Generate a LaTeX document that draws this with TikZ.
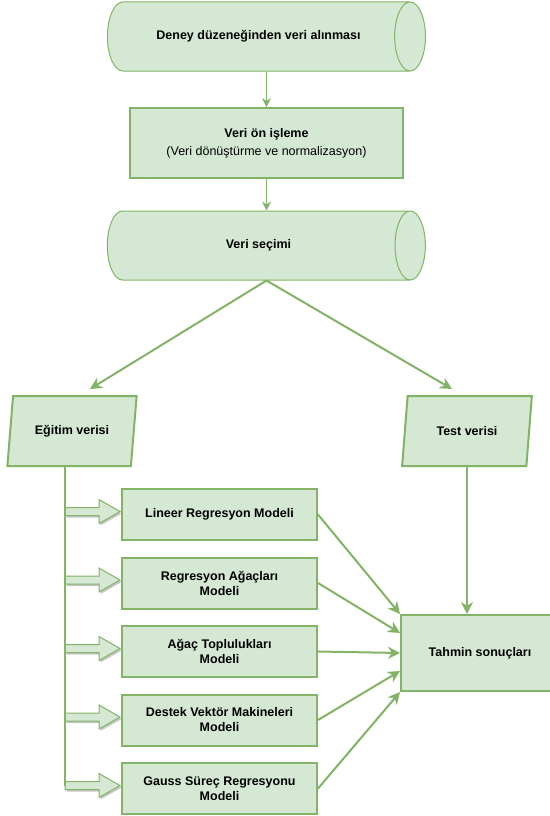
\documentclass[tikz,border=0pt]{standalone}
\usepackage{fontspec}
\setmainfont{Liberation Sans}
\usetikzlibrary{calc}
\usetikzlibrary{shapes}
\usetikzlibrary{shadows}
\usetikzlibrary{arrows.meta}
\usetikzlibrary{positioning}
\definecolor{boxfill}{HTML}{D5E8D4}
\definecolor{boxline}{HTML}{82B366}

\tikzset{
  base/.style={fill=boxfill, draw=boxline, font=\fontsize{12.5}{15}\selectfont\bfseries, align=center, inner sep=0pt},
  drum/.style={base, cylinder, shape aspect=2.6, minimum width=69pt, minimum height=318pt, line width=1pt},
  proc/.style={base, rectangle, line width=2pt},
  io/.style={base, trapezium, trapezium left angle=73, trapezium right angle=107, trapezium stretches=true, minimum width=130pt, minimum height=70pt, line width=2pt},
  model/.style={proc, minimum width=195pt, minimum height=51pt},
  thinflow/.style={draw=boxline, line width=1pt, -{Stealth[length=9pt,width=9pt]}},
  thickflow/.style={draw=boxline, line width=2pt, -{Stealth[length=12pt,width=12pt]}},
  fatarrow/.style={fill=boxfill, draw=boxline, line width=1pt, drop shadow={shadow xshift=1.5pt, shadow yshift=-2pt, fill=black!45, opacity=.5}},
}

\begin{document}
\begin{tikzpicture}[x=1pt,y=-1pt]
\useasboundingbox (0,0) rectangle (549,816);
% upper chain
\node[drum] (deney) at (258.5,36.5) {Deney düzeneğinden veri alınması};
\node[proc, minimum width=273pt, minimum height=70pt] (onisleme) at (266.5,143) {Veri ön işleme\\[3pt]{\mdseries (Veri dönüştürme ve normalizasyon)}};
\node[drum] (secim) at (258.5,245.5) {Veri seçimi};
\draw[thinflow] (deney.south -| onisleme.north) -- (onisleme.north);
\draw[thinflow] (onisleme.south) -- (onisleme.south |- secim.north);

% data sets
\node[io] (egitim) at (72,431) {Eğitim verisi};
\node[io] (test) at (467,431) {Test verisi};
\coordinate (split) at (secim.south -| onisleme.south);
\draw[thickflow] (split) -- ($(egitim.north)+(18,-6)$);
\draw[thickflow] (split) -- ($(test.north)+(-15,-6)$);

% models
\node[model] (m1) at (219.5,514.5) {Lineer Regresyon Modeli};
\node[model, below=15.5pt of m1] (m2) {Regresyon Ağaçları\\Modeli};
\node[model, below=15.5pt of m2] (m3) {Ağaç Toplulukları\\Modeli};
\node[model, below=15.5pt of m3] (m4) {Destek Vektör Makineleri\\Modeli};
\node[model, below=15.5pt of m4] (m5) {Gauss Süreç Regresyonu\\Modeli};
\node[proc, minimum width=158pt, minimum height=76pt] (tahmin) at (480,653) {Tahmin sonuçları};

% training data to models
\coordinate (trunk) at ($(egitim.south)+(-7,0)$);
\foreach \m in {m1,m2,m3,m4,m5}{
  \coordinate (tip) at ($(\m.west)+(-1,-3)$);
  \coordinate (tail) at (trunk |- tip);
  \draw[fatarrow] ($(tail)+(0,-4)$) -- ($(tip)+(-21,-4)$) -- ($(tip)+(-21,-12)$) -- (tip)
    -- ($(tip)+(-21,12)$) -- ($(tip)+(-21,4)$) -- ($(tail)+(0,4)$) -- cycle;
}
\draw[boxline, line width=1.5pt] (trunk) -- (trunk |- tip);

% results
\draw[thickflow] (m1.east) -- (tahmin.north west);
\draw[thickflow] (m2.east) -- ($(tahmin.west)+(0,-20)$);
\draw[thickflow] (m3.east) -- (tahmin.west);
\draw[thickflow] (m4.east) -- ($(tahmin.west)+(0,18)$);
\draw[thickflow] (m5.east) -- (tahmin.south west);
\draw[thickflow] (test.south) -- (test.south |- tahmin.north);
\end{tikzpicture}
\end{document}
